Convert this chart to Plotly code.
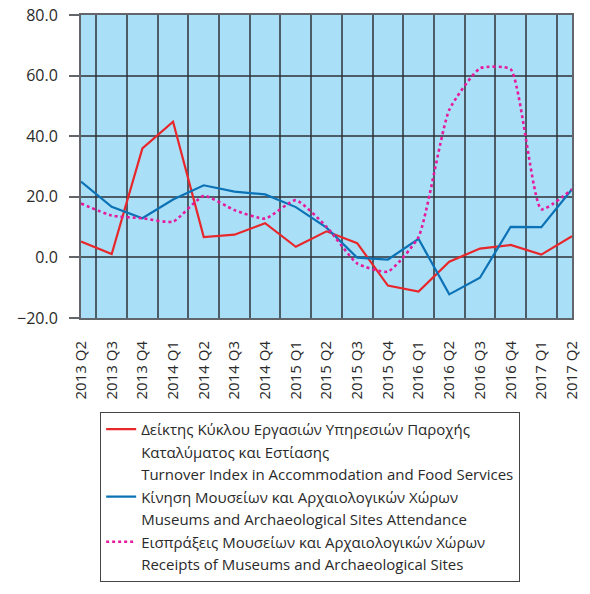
"""Greek tourism indices, quarterly % change, with line overlays."""

import plotly.graph_objects as go

# Data
QUARTERS = [
    "2013 Q2", "2013 Q3", "2013 Q4", "2014 Q1", "2014 Q2", "2014 Q3",
    "2014 Q4", "2015 Q1", "2015 Q2", "2015 Q3", "2015 Q4", "2016 Q1",
    "2016 Q2", "2016 Q3", "2016 Q4", "2017 Q1", "2017 Q2",
]
TURNOVER = [5.2, 1.1, 36.0, 44.8, 6.7, 7.5, 11.3, 3.5, 8.6, 4.7,
            -9.3, -11.3, -1.4, 2.9, 4.1, 0.9, 7.0]
ATTENDANCE = [25.0, 16.7, 12.9, 19.1, 23.8, 21.7, 20.8, 16.6, 9.8, -0.1,
              -0.7, 6.1, -12.2, -6.7, 10.1, 10.0, 22.5]
RECEIPTS = [17.8, 13.8, 12.9, 11.8, 20.3, 15.6, 12.8, 18.9, 10.1, -2.0,
            -4.7, 6.8, 48.7, 62.4, 62.1, 15.9, 22.5]

LEGEND_LINES = {
    "turnover": [
        "Δείκτης Κύκλου Εργασιών Υπηρεσιών Παροχής",
        "Καταλύματος και Εστίασης",
        "Turnover Index in Accommodation and Food Services",
    ],
    "attendance": [
        "Κίνηση Μουσείων και Αρχαιολογικών Χώρων",
        "Museums and Archaeological Sites Attendance",
    ],
    "receipts": [
        "Εισπράξεις Μουσείων και Αρχαιολογικών Χώρων",
        "Receipts of Museums and Archaeological Sites",
    ],
}

# Colours
_RED = "#e8272b"
_BLUE = "#0b72b6"
_MAGENTA = "#e51a9c"
_PLOT_BG = "#aadff8"
_GRID = "rgba(45, 50, 55, 0.75)"
_TEXT = "#2a2a2a"

fig = go.Figure()


def _add_series(key, y, line):
    lines = LEGEND_LINES[key]
    fig.add_trace(
        go.Scatter(
            x=QUARTERS, y=y, mode="lines", name=lines[0],
            line=line, legendgroup=key,
        )
    )
    # continuation lines of the legend label (no symbol)
    for extra in lines[1:]:
        fig.add_trace(
            go.Scatter(
                x=[None], y=[None], mode="lines", name=extra,
                line=dict(color="rgba(0,0,0,0)", width=0),
                legendgroup=key, hoverinfo="skip",
            )
        )


_add_series("turnover", TURNOVER, dict(color=_RED, width=2.2))
_add_series("attendance", ATTENDANCE, dict(color=_BLUE, width=2.2))
_add_series("receipts", RECEIPTS,
            dict(color=_MAGENTA, width=2.6, dash="dot", shape="spline", smoothing=0.5))

fig.update_layout(
    width=590,
    height=594,
    margin=dict(l=81, r=18, t=15, b=276),
    paper_bgcolor="white",
    plot_bgcolor=_PLOT_BG,
    font=dict(family="Open Sans", size=15, color=_TEXT),
    showlegend=True,
    legend=dict(
        x=0.039, y=-0.31, xanchor="left", yanchor="top",
        bgcolor="white", bordercolor="#444444", borderwidth=1,
        font=dict(size=15, color=_TEXT),
        itemwidth=30, tracegroupgap=0, traceorder="normal",
        itemclick=False, itemdoubleclick=False,
    ),
)

fig.update_xaxes(
    type="category",
    tickson="boundaries",
    showgrid=True, gridcolor=_GRID, gridwidth=1.5,
    showline=True, linecolor=_GRID, linewidth=2, mirror=True,
    ticks="", tickangle=-90, ticklabelstandoff=15,
    tickfont=dict(size=15),
    zeroline=False, automargin=False,
)
fig.update_yaxes(
    range=[-20, 80], dtick=20, tickformat=".1f",
    showgrid=True, gridcolor=_GRID, gridwidth=1.5,
    showline=True, linecolor=_GRID, linewidth=2, mirror=True,
    ticks="outside", ticklen=10, tickcolor=_GRID, tickwidth=1.5,
    ticklabelstandoff=8,
    tickfont=dict(size=16),
    zeroline=False, automargin=False,
)

# drop the browser's default 8px body margin so the figure sits at (0, 0)
fig.write_html(
    "out.html",
    config={"displayModeBar": False},
    post_script="document.body.style.margin = '0';",
)
